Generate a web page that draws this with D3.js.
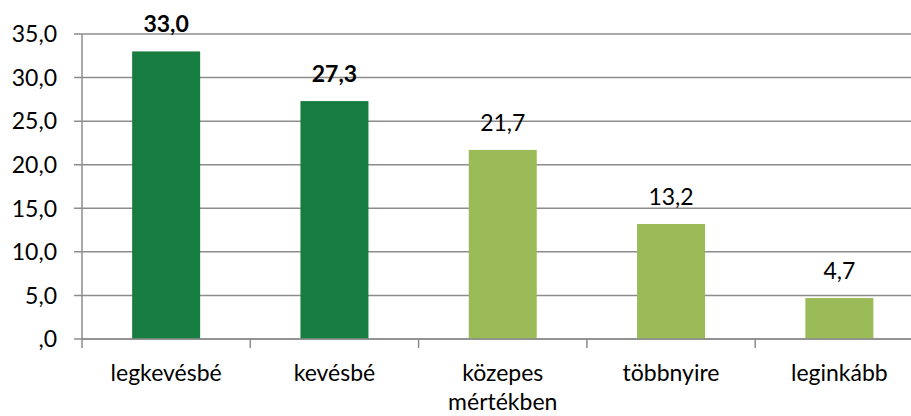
<!DOCTYPE html>
<html>
<head>
<meta charset="utf-8">
<script src="https://cdn.jsdelivr.net/npm/d3@7"></script>
<style>
  body { margin: 0; background: #fff; }
  svg { display: block; font-family: Lato, "Open Sans", sans-serif; }
</style>
</head>
<body>
<svg id="chart" width="911" height="416"></svg>
<script>
const categories = [["legkevésbé"], ["kevésbé"], ["közepes", "mértékben"], ["többnyire"], ["leginkább"]];
const values = [33.0, 27.3, 21.7, 13.2, 4.7];
const highlighted = [true, true, false, false, false];
const yTicks = [0, 5, 10, 15, 20, 25, 30, 35];

const margin = {left: 82, top: 34, bottom: 339};
const fmt = v => (v === 0 ? "" : d3.format(".1f")(v).split(".")[0]) + "," + d3.format(".1f")(v).split(".")[1];

const svg = d3.select("#chart");

const x = d3.scaleBand()
    .domain(categories.map((d, i) => i))
    .range([margin.left, margin.left + 5 * 168.3]);
const y = d3.scaleLinear().domain([0, 35]).range([margin.bottom, margin.top]);
const barW = x.bandwidth() * 0.404;

// gridlines
svg.append("g")
    .selectAll("line")
    .data(yTicks)
    .enter()
    .append("line")
    .attr("x1", 74)
    .attr("x2", 911)
    .attr("y1", d => y(d))
    .attr("y2", d => y(d))
    .style("stroke", "#8c8c8c")
    .style("stroke-width", 1.5);

// y tick labels
svg.append("g")
    .selectAll("text")
    .data(yTicks)
    .enter()
    .append("text")
    .attr("x", 57)
    .attr("y", d => y(d))
    .attr("dy", "0.36em")
    .style("text-anchor", "end")
    .style("font-size", "23px")
    .style("fill", "#000")
    .text(fmt);

// bars
svg.append("g")
    .selectAll("rect")
    .data(values)
    .enter()
    .append("rect")
    .attr("x", (d, i) => x(i) + (x.bandwidth() - barW) / 2)
    .attr("width", barW)
    .attr("y", d => y(d))
    .attr("height", d => y(0) - y(d))
    .style("fill", (d, i) => highlighted[i] ? "#167c3f" : "#9bbb59");

// value labels
svg.append("g")
    .selectAll("text")
    .data(values)
    .enter()
    .append("text")
    .attr("x", (d, i) => x(i) + x.bandwidth() / 2)
    .attr("y", d => y(d) - 19)
    .style("text-anchor", "middle")
    .style("font-size", "23px")
    .style("font-weight", (d, i) => highlighted[i] ? "bold" : "normal")
    .text(fmt);

// axes
svg.append("line")
    .attr("x1", margin.left).attr("x2", margin.left)
    .attr("y1", y(35)).attr("y2", y(0))
    .style("stroke", "#8c8c8c").style("stroke-width", 1.5);
svg.append("line")
    .attr("x1", margin.left).attr("x2", 911)
    .attr("y1", y(0)).attr("y2", y(0))
    .style("stroke", "#8c8c8c").style("stroke-width", 1.5);

svg.append("g")
    .selectAll("line")
    .data(categories.map((d, i) => i))
    .enter()
    .append("line")
    .attr("x1", d => x(d)).attr("x2", d => x(d))
    .attr("y1", y(0)).attr("y2", y(0) + 9)
    .style("stroke", "#8c8c8c").style("stroke-width", 1.5);

// category labels
const lab = svg.append("g")
    .selectAll("text")
    .data(categories)
    .enter()
    .append("text")
    .attr("x", (d, i) => x(i) + x.bandwidth() / 2)
    .attr("y", 381)
    .style("text-anchor", "middle")
    .style("font-size", "23px");
lab.selectAll("tspan")
    .data(d => d)
    .enter()
    .append("tspan")
    .attr("x", function () { return d3.select(this.parentNode).attr("x"); })
    .attr("dy", (d, i) => i === 0 ? 0 : 29)
    .text(d => d);
</script>
</body>
</html>
